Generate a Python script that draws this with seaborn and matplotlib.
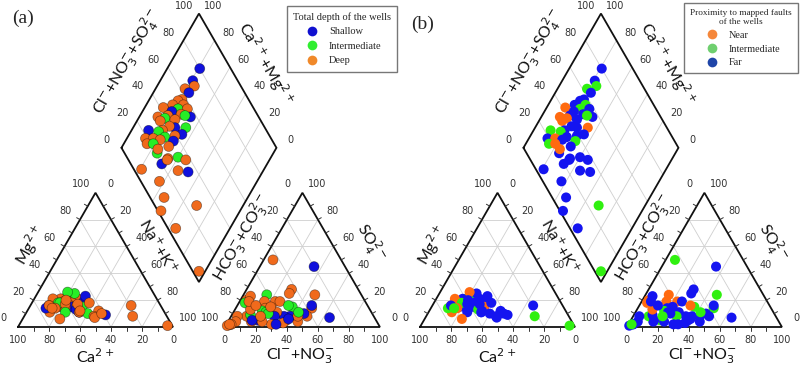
import numpy as np
import pandas as pd
import matplotlib
matplotlib.use('Agg')
import matplotlib.pyplot as plt
import seaborn as sns
from matplotlib.lines import Line2D

sns.set_style('white')
plt.rcParams['font.family'] = ['DejaVu Sans']

# ---- well samples (meq %) ----
ca = [62, 64, 56, 60, 61, 61, 65, 62, 57, 67, 59, 51, 64, 67, 72, 65, 48, 56, 59, 74,
      56, 58, 51, 62, 75, 61, 64, 55, 54, 51, 72, 69, 61, 71, 56, 55, 53, 64, 70, 55,
      50, 42, 45, 54, 59, 47, 39, 45, 47, 41, 22, 19, 3]
mg = [17, 15, 20, 21, 16, 18, 16, 21, 19, 21, 19, 21, 17, 15, 16, 18, 19, 18, 17, 11,
      15, 15, 15, 15, 14, 19, 18, 11, 16, 25, 16, 14, 17, 14, 13, 26, 17, 11, 6, 11,
      10, 12, 23, 12, 20, 8, 9, 18, 7, 10, 8, 16, 1]
na_k = [21, 21, 24, 19, 23, 21, 19, 17, 24, 12, 22, 28, 19, 18, 12, 17, 33, 26, 24, 15,
        29, 27, 34, 23, 11, 20, 18, 34, 30, 24, 12, 17, 22, 15, 31, 19, 30, 25, 24, 34,
        40, 46, 32, 34, 21, 45, 52, 37, 46, 49, 70, 65, 96]
hco3 = [20, 29, 30, 37, 36, 43, 46, 51, 44, 58, 49, 43, 54, 58, 65, 61, 44, 49, 55, 65,
        47, 58, 51, 61, 76, 67, 70, 56, 61, 68, 81, 76, 72, 82, 64, 78, 69, 79, 77, 74,
        67, 63, 80, 75, 95, 72, 66, 88, 91, 98, 73, 95, 96]
cl_no3 = [35, 64, 46, 49, 48, 29, 29, 45, 6, 23, 36, 49, 38, 37, 20, 15, 46, 43, 26, 16,
          42, 34, 33, 36, 19, 19, 18, 38, 28, 21, 15, 4, 5, 10, 28, 4, 29, 12, 10, 22,
          23, 22, 15, 6, 3, 12, 32, 4, 5, 1, 19, 3, 2]
so4 = [45, 7, 24, 14, 16, 28, 25, 4, 50, 19, 15, 8, 8, 5, 15, 24, 10, 8, 19, 19,
       11, 8, 16, 3, 5, 14, 12, 6, 11, 11, 4, 20, 23, 8, 8, 18, 2, 9, 13, 4,
       10, 15, 5, 19, 2, 16, 2, 8, 4, 1, 8, 2, 2]

S, I, D = 'Shallow', 'Intermediate', 'Deep'
depth = [S, S, D, D, S, D, D, D, D, D, I, D, S, D, D, I, S, D, D, D,
         I, S, I, D, S, D, I, S, D, I, D, D, D, D, S, I, D, I, D, D,
         I, D, S, D, D, D, S, D, D, D, D, D, D]
N, M, F = 'Near', 'Intermediate', 'Far'
proximity = [F, F, M, M, F, F, F, F, M, N, M, F, F, F, N, N, F, F, F, N,
             M, F, N, F, M, F, M, F, F, F, F, N, F, M, M, N, F, F, N, F,
             F, F, F, F, F, F, F, F, F, F, M, F, M]

depth_fill = {'Shallow': '#1010dc', 'Intermediate': '#26ee26', 'Deep': '#f06a1c'}
depth_leg = {'Shallow': '#1010d0', 'Intermediate': '#30ee30', 'Deep': '#f0892a'}
prox_fill = {'Near': '#ff6a10', 'Intermediate': '#30f010', 'Far': '#1414f0'}
prox_leg = {'Near': '#f5873a', 'Intermediate': '#6fcf6f', 'Far': '#1f45a8'}

H = np.sqrt(3) / 2
GAP = 0.335


def piper_points(df):
    cat = df['Ca'] + df['Mg'] + df['NaK']
    an = df['HCO3'] + df['Cl'] + df['SO4']
    mgf, naf = df['Mg'] / cat, df['NaK'] / cat
    clf, sof = df['Cl'] / an, df['SO4'] / an
    parts = []
    parts.append(pd.DataFrame({'x': naf + mgf / 2, 'y': mgf * H, 'k': df.index}))
    parts.append(pd.DataFrame({'x': 1 + GAP + clf + sof / 2, 'y': sof * H, 'k': df.index}))
    a, b = naf, clf + sof
    lx, ly = 0.5 + GAP / 2, H * (1 + GAP)
    parts.append(pd.DataFrame({'x': lx + 0.5 * (a + b), 'y': ly + H * (b - a), 'k': df.index}))
    out = pd.concat(parts).sort_values('k', kind='stable')
    return out


def draw_frame(ax):
    grid = dict(color='#cfcfcf', lw=0.6, zorder=1)
    edge = dict(color='#111111', lw=1.3, zorder=2, solid_joinstyle='miter')
    tick = dict(color='#333333', lw=0.7, zorder=2)
    lab = dict(fontsize=7, color='#333333', ha='center', va='center')
    for x0 in (0.0, 1 + GAP):
        A = np.array([x0, 0]); B = np.array([x0 + 1, 0]); C = np.array([x0 + 0.5, H])
        for t in (0.2, 0.4, 0.6, 0.8):
            for P, Q, R in ((A, B, C), (B, C, A), (C, A, B)):
                p1 = P + t * (R - P); p2 = Q + t * (R - Q)
                ax.plot([p1[0], p2[0]], [p1[1], p2[1]], **grid)
        ax.plot([A[0], B[0], C[0], A[0]], [A[1], B[1], C[1], A[1]], **edge)
        for t in np.arange(0.1, 1.0, 0.1):
            px = x0 + t
            ax.plot([px, px], [0, -0.025], **tick)
            for P, Q, d in ((A, C, np.array([-H, 0.5])), (C, B, np.array([H, 0.5]))):
                p = P + t * (Q - P)
                q = p + 0.025 * d
                ax.plot([p[0], q[0]], [p[1], q[1]], **tick)
        for v in range(0, 101, 20):
            t = v / 100
            left = A + t * (C - A); right = C + t * (B - C)
            if x0 == 0:
                ax.text(x0 + 1 - t, -0.085, str(v), **lab)
                ax.text(left[0] - 0.095, left[1] + 0.055, str(v), **lab)
                ax.text(right[0] + 0.095, right[1] + 0.055, str(v), **lab)
            else:
                ax.text(x0 + t, -0.085, str(v), **lab)
                ax.text(left[0] - 0.095, left[1] + 0.055, str(100 - v), **lab)
                ax.text(right[0] + 0.095, right[1] + 0.055, str(100 - v), **lab)
    L = np.array([0.5 + GAP / 2, H * (1 + GAP)])
    T = L + np.array([0.5, H]); Bt = L + np.array([0.5, -H]); R = T + np.array([0.5, -H])
    for t in (0.2, 0.4, 0.6, 0.8):
        p1 = L + t * (T - L); p2 = p1 + (Bt - L)
        ax.plot([p1[0], p2[0]], [p1[1], p2[1]], **grid)
        p1 = L + t * (Bt - L); p2 = p1 + (T - L)
        ax.plot([p1[0], p2[0]], [p1[1], p2[1]], **grid)
    ax.plot([L[0], T[0], R[0], Bt[0], L[0]], [L[1], T[1], R[1], Bt[1], L[1]], **edge)
    for v in range(0, 101, 20):
        t = v / 100
        p = L + t * (T - L)
        ax.text(p[0] - 0.095, p[1] + 0.05, str(v), **lab)
        q = T + t * (R - T)
        ax.text(q[0] + 0.09, q[1] + 0.05, str(100 - v), **lab)
    title = dict(fontsize=11.5, color='#111111', ha='center', va='center', family=['Lato', 'DejaVu Sans'])
    ax.text(0.077, 0.529, r'Mg$^{2+}$', rotation=60, **title)
    ax.text(0.497, -0.19, r'Ca$^{2+}$', **title)
    ax.text(0.903, 0.523, r'Na$^{+}$+K$^{+}$', rotation=-60, **title)
    ax.text(1.445, 0.574, r'HCO$_3^{-}$+CO$_3^{2-}$', rotation=60, **title)
    ax.text(2.27, 0.54, r'SO$_4^{2-}$', rotation=-60, **title)
    ax.text(1.82, -0.19, r'Cl$^{-}$+NO$_3^{-}$', **title)
    ax.text(0.71, 1.71, r'Cl$^{-}$+NO$_3^{-}$+SO$_4^{2-}$', rotation=60, **title)
    ax.text(1.594, 1.70, r'Ca$^{2+}$+Mg$^{2+}$', rotation=-60, **title)


samples = pd.DataFrame({'Ca': ca, 'Mg': mg, 'NaK': na_k, 'HCO3': hco3,
                        'Cl': cl_no3, 'SO4': so4, 'depth': depth, 'proximity': proximity})
pts = piper_points(samples)
pts['depth'] = samples.loc[pts['k'], 'depth'].values
pts['proximity'] = samples.loc[pts['k'], 'proximity'].values

fig = plt.figure(figsize=(8, 3.69), dpi=100)
ax_a = fig.add_axes([0, 0, 0.5, 1])
ax_b = fig.add_axes([0.5, 0, 0.5, 1])

for ax, x_left in ((ax_a, 18), (ax_b, 20)):
    ax.set_xlim(-x_left / 155, (400 - x_left) / 155)
    ax.set_ylim(-42 / 155, 327 / 155)
    ax.set_aspect('equal')
    draw_frame(ax)

sns.scatterplot(data=pts, x='x', y='y', hue='depth', palette=depth_fill, s=52,
                edgecolor=(0, 0, 0, 0.45), linewidth=0.5, legend=False, ax=ax_a, zorder=3)
sns.scatterplot(data=pts, x='x', y='y', hue='proximity', palette=prox_fill, s=52,
                linewidth=0, legend=False, ax=ax_b, zorder=3)
for ax in (ax_a, ax_b):
    ax.set_xlabel(''); ax.set_ylabel('')
    ax.axis('off')

serif = ['Liberation Serif', 'DejaVu Serif']
ax_a.text(0.057, 0.95, '(a)', transform=ax_a.transAxes, fontsize=14, family=serif, va='center', ha='center')
ax_b.text(0.057, 0.935, '(b)', transform=ax_b.transAxes, fontsize=14, family=serif, va='center', ha='center')


def make_legend(ax, colors, order, title, anchor, size, tsize, spacing):
    hs = [Line2D([], [], marker='o', ls='', markersize=7, markerfacecolor=colors[k],
                 markeredgecolor='none') for k in order]
    leg = ax.legend(hs, order, title=title, loc='upper right', bbox_to_anchor=anchor,
                    bbox_transform=fig.transFigure, frameon=True, fancybox=False,
                    prop={'family': serif, 'size': size},
                    title_fontproperties={'family': serif, 'size': tsize},
                    borderpad=0.6, labelspacing=spacing, handletextpad=0.6, borderaxespad=0)
    leg.get_title().set_multialignment('center')
    leg.get_frame().set_edgecolor('#555555')
    leg.get_frame().set_linewidth(1.0)
    return leg


make_legend(ax_a, depth_leg, ['Shallow', 'Intermediate', 'Deep'], 'Total depth of the wells',
            (397 / 800, 1 - 6 / 369), 7.5, 7.5, 0.5)
make_legend(ax_b, prox_leg, ['Near', 'Intermediate', 'Far'], 'Proximity to mapped faults\nof the wells',
            (798 / 800, 1 - 3 / 369), 7.3, 6.7, 0.45)

fig.savefig('out.png', dpi=100)
